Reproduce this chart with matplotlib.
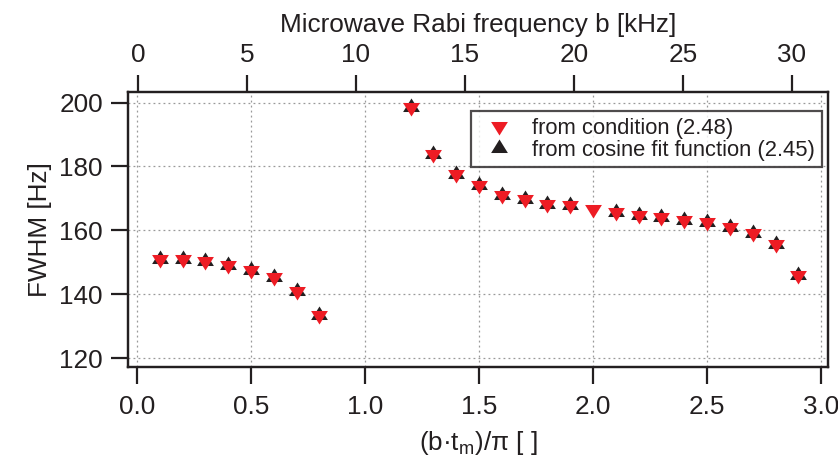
import numpy as np
import matplotlib
matplotlib.use('Agg')
import matplotlib.pyplot as plt

plt.rcParams['font.family'] = ['Liberation Sans', 'DejaVu Sans']
plt.rcParams['mathtext.fontset'] = 'custom'
plt.rcParams['mathtext.rm'] = 'Liberation Sans'
plt.rcParams['mathtext.it'] = 'Liberation Sans'

# data
x_cond = [0.1, 0.2, 0.3, 0.4, 0.5, 0.6, 0.7, 0.8,
          1.2, 1.3, 1.4, 1.5, 1.6, 1.7, 1.8, 1.9, 2.0,
          2.1, 2.2, 2.3, 2.4, 2.5, 2.6, 2.7, 2.8, 2.9]
fwhm_cond = [151.1, 151.0, 150.3, 149.2, 147.6, 145.3, 141.1, 133.4,
             198.5, 183.9, 177.6, 174.1, 171.1, 169.8, 168.2, 167.8, 166.7,
             165.9, 164.9, 164.3, 163.3, 162.5, 161.1, 159.2, 155.7, 146.1]

x_fit = [0.1, 0.2, 0.3, 0.4, 0.5, 0.6, 0.7, 0.8,
         1.2, 1.3, 1.4, 1.5, 1.6, 1.7, 1.8, 1.9,
         2.1, 2.2, 2.3, 2.4, 2.5, 2.6, 2.7, 2.8, 2.9]
fwhm_fit = [151.1, 151.0, 150.3, 149.2, 147.6, 145.3, 141.1, 133.4,
            198.5, 183.9, 177.6, 174.1, 171.1, 169.8, 168.2, 167.8,
            165.9, 164.9, 164.3, 163.3, 162.5, 161.1, 159.2, 155.7, 146.1]

xticks = [0.0, 0.5, 1.0, 1.5, 2.0, 2.5, 3.0]
yticks = [120, 140, 160, 180, 200]
top_ticks = [0, 5, 10, 15, 20, 25, 30]

RED = '#ED1C24'
BLK = '#231F20'
FS = 18.8
MS = 13

# triangles centred on their centroid (like the original plotting program)
tri_up = [(0, 2/3), (-0.62, -1/3), (0.62, -1/3), (0, 2/3)]
tri_dn = [(0, -2/3), (-0.62, 1/3), (0.62, 1/3), (0, -2/3)]

fig = plt.figure(figsize=(8.38, 4.70), dpi=100)
ax = fig.add_axes([0.1527, 0.2185, 0.988 - 0.1527, 0.805 - 0.2185])

ax.plot(x_fit, fwhm_fit, linestyle='none', marker=tri_up, ms=MS,
        color=BLK, mec='none', label='from cosine fit function (2.45)', zorder=3)
ax.plot(x_cond, fwhm_cond, linestyle='none', marker=tri_dn, ms=MS,
        color=RED, mec='none', label='from condition (2.48)', zorder=4)

ax.set_xlim(-0.04, 3.03)
ax.set_ylim(117.2, 203.4)
ax.set_xticks(xticks)
ax.set_xticklabels([f'{v:.1f}' for v in xticks])
ax.set_yticks(yticks)
ax.grid(True, color='#999999', linestyle=(0, (1.5, 2.5)), linewidth=0.9)
ax.set_axisbelow(True)

for s in ax.spines.values():
    s.set_linewidth(1.6)
    s.set_color(BLK)
ax.tick_params(direction='out', length=12, width=1.6, color=BLK,
               labelsize=FS, labelcolor=BLK, pad=6)
ax.tick_params(axis='x', pad=8)

ax.set_xlabel(r'(b·t$_{\rm m}$)/π [ ]', fontsize=FS, color=BLK, labelpad=7)
ax.set_ylabel('FWHM [Hz]', fontsize=FS, color=BLK, labelpad=5)

ax2 = ax.twiny()
ax2.set_xlim(-0.46, 31.65)
ax2.set_xticks(top_ticks)
ax2.tick_params(direction='out', length=12, width=1.6, color=BLK,
                labelsize=FS, labelcolor=BLK, pad=6)
for s in ax2.spines.values():
    s.set_linewidth(1.6)
    s.set_color(BLK)
ax2.set_xlabel('Microwave Rabi frequency b [kHz]', fontsize=FS, color=BLK, labelpad=8)

h, l = ax.get_legend_handles_labels()
leg = ax.legend(h[::-1], l[::-1], loc='upper right', bbox_to_anchor=(0.991, 0.93),
                fontsize=15.8, frameon=True, fancybox=False, borderpad=0.3,
                handletextpad=0.55, labelspacing=0.05, handlelength=1.95,
                borderaxespad=0)
leg.get_frame().set_edgecolor(BLK)
leg.get_frame().set_linewidth(1.6)
for t in leg.get_texts():
    t.set_color(BLK)

fig.savefig('out.png', dpi=100)
